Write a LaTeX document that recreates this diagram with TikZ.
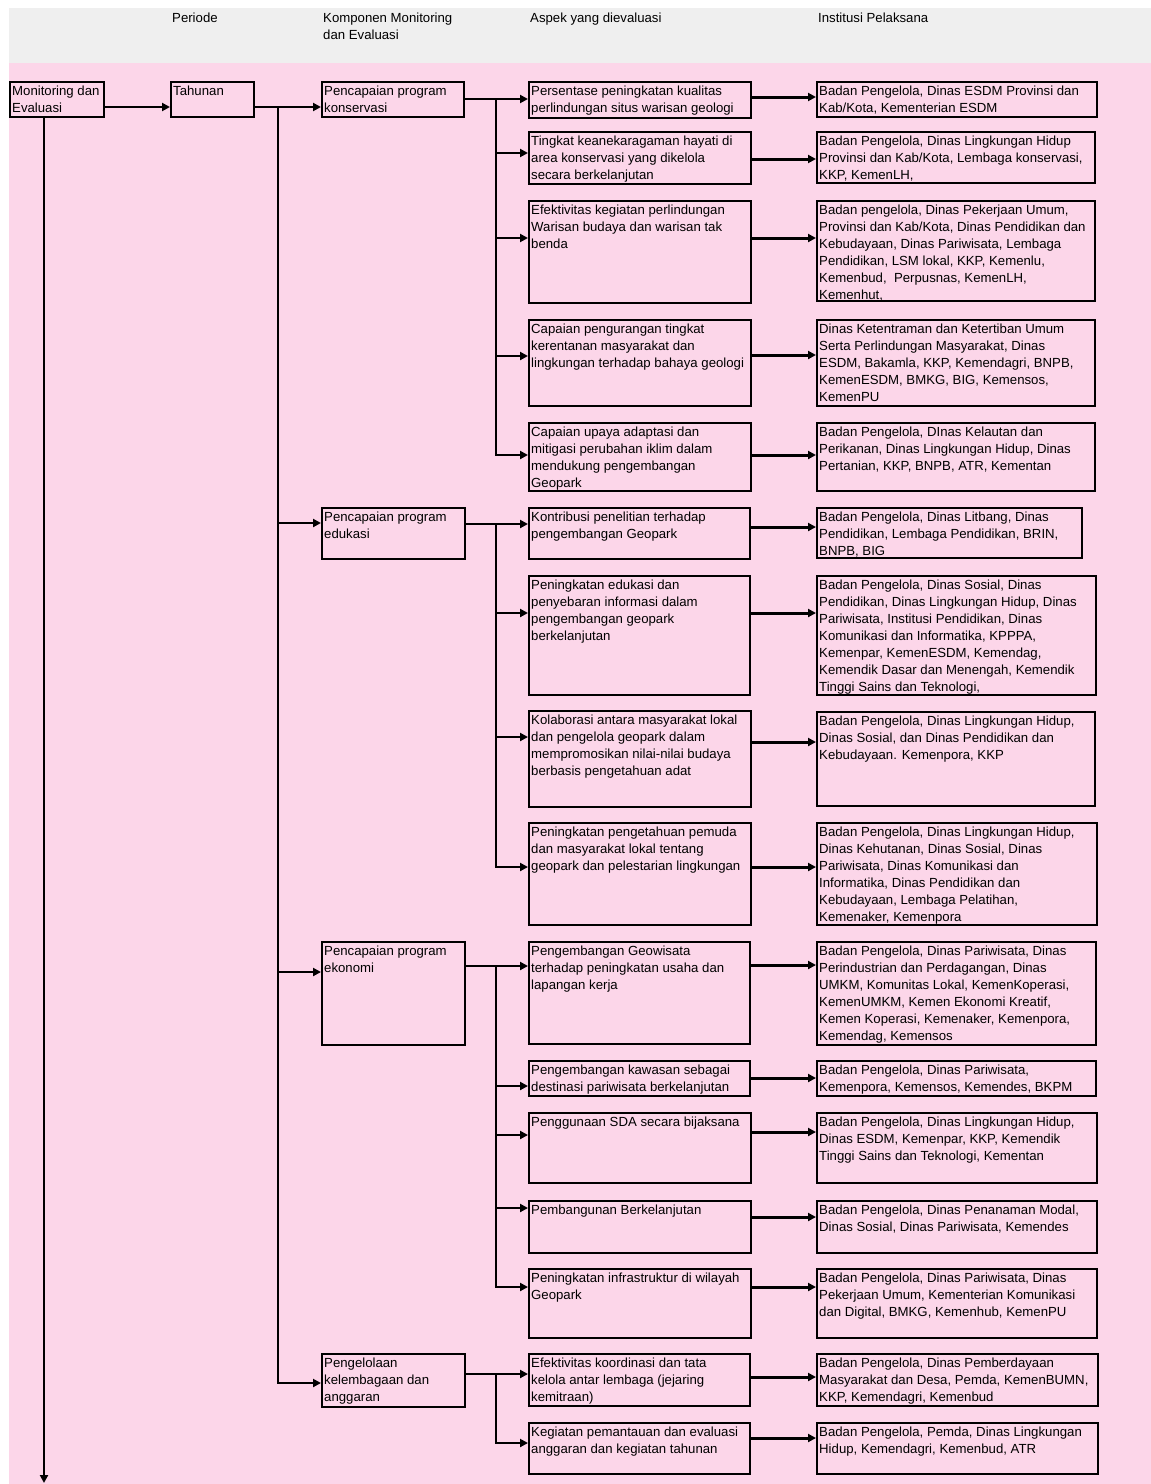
\documentclass[tikz,border=0pt]{standalone}
\usepackage{fontspec}
\setmainfont{Liberation Sans}
\usetikzlibrary{arrows.meta}
\definecolor{pinkbg}{RGB}{252,214,233}
\definecolor{graybg}{RGB}{239,239,239}
\tikzset{
  bx/.style={draw=black, line width=1.8pt, fill=pinkbg, inner sep=0pt, anchor=north west},
  tx/.style={font=\fontsize{13.2}{17}\selectfont, align=left, inner sep=0pt, anchor=north west},
  ln/.style={line width=2.2pt},
  arr/.style={line width=2.2pt, -{Triangle[length=8pt,width=8pt]}},
  arrb/.style={line width=3pt, -{Triangle[length=8pt,width=8pt]}}
}
\newcommand\bxx[6]{%
  \node[bx, minimum width=#4pt, minimum height=#5pt] (#1) at (#2,#3) {};
  \node[tx] (#1t) at (#2+3,#3+2) {\strut #6};}
\newcommand\hl[4]{\draw[#1] (#2.east |- 0,#4) -- (#3.west |- 0,#4);}
\begin{document}
\begin{tikzpicture}[x=1pt,y=-1pt]
\useasboundingbox (0,0) rectangle (1151,1484);
\fill[white] (0,0) rectangle (1151,1484);
\fill[graybg] (9,8) rectangle (1151,63);
\fill[pinkbg] (9,63) rectangle (1151,1484);

% headers
\node[tx] (h1) at (172,10) {\strut Periode};
\node[tx] (h2) at (323,10) {\strut Komponen Monitoring\\dan Evaluasi};
\node[tx] (h3) at (530,10) {\strut Aspek yang dievaluasi};
\node[tx] (h4) at (818,10) {\strut Institusi Pelaksana};

% first columns
\bxx{mon}{9}{81}{94}{35}{Monitoring dan\\Evaluasi}
\bxx{tah}{170}{81}{83}{35}{Tahunan}
\bxx{pk}{321}{81}{142}{35}{Pencapaian program\\konservasi}
\bxx{pe}{321}{507}{143}{51}{Pencapaian program\\edukasi}
\bxx{px}{321}{941}{143}{103}{Pencapaian program\\ekonomi}
\bxx{pg}{321}{1353}{143}{53}{Pengelolaan\\kelembagaan dan\\anggaran}

% konservasi
\bxx{a1}{528}{81}{222}{36}{Persentase peningkatan kualitas\\perlindungan situs warisan geologi}
\bxx{i1}{816}{81}{280}{35}{Badan Pengelola, Dinas ESDM Provinsi dan\\Kab/Kota, Kementerian ESDM}
\bxx{a2}{528}{131}{222}{52}{Tingkat keanekaragaman hayati di\\area konservasi yang dikelola\\secara berkelanjutan}
\bxx{i2}{816}{131}{278}{51}{Badan Pengelola, Dinas Lingkungan Hidup\\Provinsi dan Kab/Kota, Lembaga konservasi,\\KKP, KemenLH,}
\bxx{a3}{528}{200}{222}{102}{Efektivitas kegiatan perlindungan\\Warisan budaya dan warisan tak\\benda}
\bxx{i3}{816}{200}{278}{100}{Badan pengelola, Dinas Pekerjaan Umum,\\Provinsi dan Kab/Kota, Dinas Pendidikan dan\\Kebudayaan, Dinas Pariwisata, Lembaga\\Pendidikan, LSM lokal, KKP, Kemenlu,\\Kemenbud, \ Perpusnas, KemenLH,\\Kemenhut,}
\bxx{a4}{528}{319}{222}{86}{Capaian pengurangan tingkat\\kerentanan masyarakat dan\\lingkungan terhadap bahaya geologi}
\bxx{i4}{816}{319}{278}{86}{Dinas Ketentraman dan Ketertiban Umum\\Serta Perlindungan Masyarakat, Dinas\\ESDM, Bakamla, KKP, Kemendagri, BNPB,\\KemenESDM, BMKG, BIG, Kemensos,\\KemenPU}
\bxx{a5}{528}{422}{222}{68}{Capaian upaya adaptasi dan\\mitigasi perubahan iklim dalam\\mendukung pengembangan\\Geopark}
\bxx{i5}{816}{422}{278}{68}{Badan Pengelola, DInas Kelautan dan\\Perikanan, Dinas Lingkungan Hidup, Dinas\\Pertanian, KKP, BNPB, ATR, Kementan}

% edukasi
\bxx{e1}{528}{507}{221}{51}{Kontribusi penelitian terhadap\\pengembangan Geopark}
\bxx{ie1}{816}{507}{265}{50}{Badan Pengelola, Dinas Litbang, Dinas\\Pendidikan, Lembaga Pendidikan, BRIN,\\BNPB, BIG}
\bxx{e2}{528}{575}{221}{119}{Peningkatan edukasi dan\\penyebaran informasi dalam\\pengembangan geopark\\berkelanjutan}
\bxx{ie2}{816}{575}{279}{119}{Badan Pengelola, Dinas Sosial, Dinas\\Pendidikan, Dinas Lingkungan Hidup, Dinas\\Pariwisata, Institusi Pendidikan, Dinas\\Komunikasi dan Informatika, KPPPA,\\Kemenpar, KemenESDM, Kemendag,\\Kemendik Dasar dan Menengah, Kemendik\\Tinggi Sains dan Teknologi,}
\bxx{e3}{528}{710}{222}{96}{Kolaborasi antara masyarakat lokal\\dan pengelola geopark dalam\\mempromosikan nilai-nilai budaya\\berbasis pengetahuan adat}
\bxx{ie3}{816}{711}{278}{94}{Badan Pengelola, Dinas Lingkungan Hidup,\\Dinas Sosial, dan Dinas Pendidikan dan\\Kebudayaan. Kemenpora, KKP}
\bxx{e4}{528}{822}{222}{102}{Peningkatan pengetahuan pemuda\\dan masyarakat lokal tentang\\geopark dan pelestarian lingkungan}
\bxx{ie4}{816}{822}{280}{102}{Badan Pengelola, Dinas Lingkungan Hidup,\\Dinas Kehutanan, Dinas Sosial, Dinas\\Pariwisata, Dinas Komunikasi dan\\Informatika, Dinas Pendidikan dan\\Kebudayaan, Lembaga Pelatihan,\\Kemenaker, Kemenpora}

% ekonomi
\bxx{k1}{528}{941}{221}{102}{Pengembangan Geowisata\\terhadap peningkatan usaha dan\\lapangan kerja}
\bxx{ik1}{816}{941}{279}{103}{Badan Pengelola, Dinas Pariwisata, Dinas\\Perindustrian dan Perdagangan, Dinas\\UMKM, Komunitas Lokal, KemenKoperasi,\\KemenUMKM, Kemen Ekonomi Kreatif,\\Kemen Koperasi, Kemenaker, Kemenpora,\\Kemendag, Kemensos}
\bxx{k2}{528}{1060}{221}{35}{Pengembangan kawasan sebagai\\destinasi pariwisata berkelanjutan}
\bxx{ik2}{816}{1060}{279}{35}{Badan Pengelola, Dinas Pariwisata,\\Kemenpora, Kemensos, Kemendes, BKPM}
\bxx{k3}{528}{1112}{222}{70}{Penggunaan SDA secara bijaksana}
\bxx{ik3}{816}{1112}{280}{70}{Badan Pengelola, Dinas Lingkungan Hidup,\\Dinas ESDM, Kemenpar, KKP, Kemendik\\Tinggi Sains dan Teknologi, Kementan}
\bxx{k4}{528}{1200}{222}{52}{Pembangunan Berkelanjutan}
\bxx{ik4}{816}{1200}{280}{52}{Badan Pengelola, Dinas Penanaman Modal,\\Dinas Sosial, Dinas Pariwisata, Kemendes}
\bxx{k5}{528}{1268}{222}{69}{Peningkatan infrastruktur di wilayah\\Geopark}
\bxx{ik5}{816}{1268}{280}{69}{Badan Pengelola, Dinas Pariwisata, Dinas\\Pekerjaan Umum, Kementerian Komunikasi\\dan Digital, BMKG, Kemenhub, KemenPU}

% pengelolaan
\bxx{g1}{528}{1353}{221}{52}{Efektivitas koordinasi dan tata\\kelola antar lembaga (jejaring\\kemitraan)}
\bxx{ig1}{816}{1353}{281}{52}{Badan Pengelola, Dinas Pemberdayaan\\Masyarakat dan Desa, Pemda, KemenBUMN,\\KKP, Kemendagri, Kemenbud}
\bxx{g2}{528}{1422}{221}{51}{Kegiatan pemantauan dan evaluasi\\anggaran dan kegiatan tahunan}
\bxx{ig2}{816}{1422}{281}{51}{Badan Pengelola, Pemda, Dinas Lingkungan\\Hidup, Kemendagri, Kemenbud, ATR}

% trunk coordinates
\coordinate (monend) at (44,1483);
\coordinate (tj) at (278,107);
\coordinate (s1) at (496,99);
\coordinate (s2) at (496,524);
\coordinate (s3) at (496,966);
\coordinate (s4) at (496,1374);

% main connectors
\hl{arr}{mon}{tah}{107}
\draw[arr] (mon.south -| monend) -- (monend);
\hl{arr}{tah}{pk}{107}
\draw[ln] (tj) -- (tj |- 0,523);
\draw[arr] (tj |- 0,523) -- (pe.west |- 0,523);
\draw[arr] (tj |- 0,972) -- (px.west |- 0,972);
\draw[arr] (tj) |- (pg.west |- 0,1383);

% konservasi
\hl{arr}{pk}{a1}{99}
\draw[ln] (s1) -- (s1 |- 0,356);
\draw[arr] (s1 |- 0,153) -- (a2.west |- 0,153);
\draw[arr] (s1 |- 0,238) -- (a3.west |- 0,238);
\draw[arr] (s1 |- 0,356) -- (a4.west |- 0,356);
\draw[arr] (s1) |- (a5.west |- 0,455);
\hl{arrb}{a1}{i1}{97}
\hl{arrb}{a2}{i2}{159}
\hl{arrb}{a3}{i3}{238}
\hl{arrb}{a4}{i4}{355}
\hl{arrb}{a5}{i5}{455}

% edukasi
\hl{arr}{pe}{e1}{524}
\draw[arr] (s2 |- 0,613) -- (e2.west |- 0,613);
\draw[arr] (s2 |- 0,737) -- (e3.west |- 0,737);
\draw[arr] (s2) |- (e4.west |- 0,867);
\hl{arrb}{e1}{ie1}{527}
\hl{arrb}{e2}{ie2}{613}
\hl{arrb}{e3}{ie3}{742}
\hl{arrb}{e4}{ie4}{867}

% ekonomi
\hl{arr}{px}{k1}{966}
\draw[arr] (s3 |- 0,1086) -- (k2.west |- 0,1086);
\draw[arr] (s3 |- 0,1135) -- (k3.west |- 0,1135);
\draw[arr] (s3 |- 0,1208) -- (k4.west |- 0,1208);
\draw[arr] (s3) |- (k5.west |- 0,1287);
\hl{arrb}{k1}{ik1}{965}
\hl{arrb}{k2}{ik2}{1078}
\hl{arrb}{k3}{ik3}{1132}
\hl{arrb}{k4}{ik4}{1217}
\hl{arrb}{k5}{ik5}{1287}

% pengelolaan
\hl{arr}{pg}{g1}{1374}
\draw[arr] (s4) |- (g2.west |- 0,1443);
\hl{arrb}{g1}{ig1}{1377}
\hl{arrb}{g2}{ig2}{1438}
\end{tikzpicture}
\end{document}
